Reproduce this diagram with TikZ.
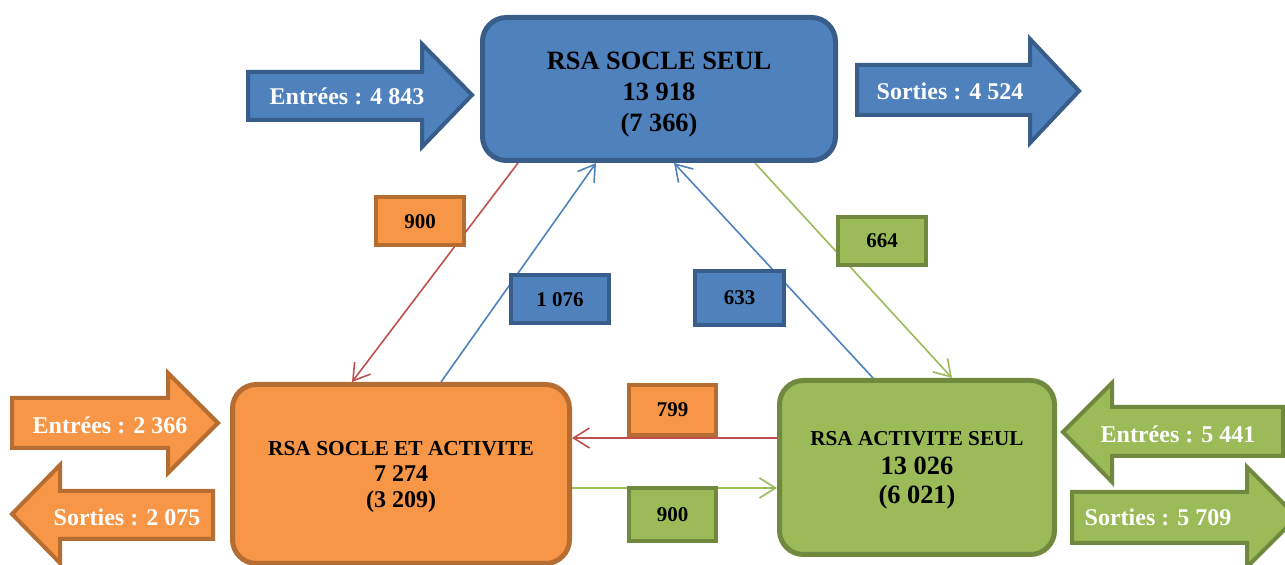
\documentclass[tikz,border=0pt]{standalone}
\usepackage{fontspec}
\setmainfont{Liberation Serif}
\usepackage{xcolor}
\usepackage{tikz}
\usetikzlibrary{arrows.meta,calc}

\definecolor{bluefill}{HTML}{4F81BD}
\definecolor{blueline}{HTML}{385D8A}
\definecolor{orangefill}{HTML}{F79646}
\definecolor{orangeline}{HTML}{B66D31}
\definecolor{greenfill}{HTML}{9BBB59}
\definecolor{greenline}{HTML}{71893F}
\definecolor{redflow}{HTML}{C0504D}

\begin{document}
\begin{tikzpicture}[
    x=0.5pt, y=-0.5pt,
    bigbox/.style={rectangle, rounded corners=12pt, line width=2.5pt, align=center},
    countbox/.style={rectangle, line width=2pt, minimum width=44pt, minimum height=24pt, font=\bfseries\fontsize{10.5}{12}\selectfont},
    blockarrow/.style={line width=2pt},
    arrowtext/.style={text=white, font=\bfseries\fontsize{12}{14}\selectfont},
    flow/.style={line width=0.8pt, -{Straight Barb[length=8pt,width=10pt]}}
]
    \useasboundingbox (0,0) rectangle (1285,565);

    % Nodes
    \node[bigbox, fill=bluefill, draw=blueline, minimum width=176.5pt, minimum height=71.5pt,
          font=\bfseries\fontsize{13.2}{15.5}\selectfont] (socle) at (659,89)
        {\rule{0pt}{14pt}RSA SOCLE SEUL\\13 918\\(7 366)};
    \node[bigbox, fill=orangefill, draw=orangeline, minimum width=168.5pt, minimum height=89.5pt,
          font=\bfseries\fontsize{12}{13}\selectfont] (mixte) at (401,474)
        {\rule{0pt}{10pt}{\fontsize{10.7}{13}\selectfont RSA SOCLE ET ACTIVITE}\\7 274\\(3 209)};
    \node[bigbox, fill=greenfill, draw=greenline, minimum width=137.5pt, minimum height=87pt,
          font=\bfseries\fontsize{13.2}{14.5}\selectfont] (activite) at (917,467.5)
        {\rule{0pt}{10pt}{\fontsize{10.6}{14.5}\selectfont RSA ACTIVITE SEUL}\\13 026\\(6 021)};

    % Entrees / sorties
    \draw[blockarrow, fill=bluefill, draw=blueline] (248,72) -- (422,72) -- (422,44) -- (472,95) -- (422,147) -- (422,120) -- (248,120) -- cycle;
    \node[arrowtext] (insocle) at (347,96) {Entrées : 4 843};
    \draw[blockarrow, fill=bluefill, draw=blueline] (857,65) -- (1030,65) -- (1030,39) -- (1079,91) -- (1030,143) -- (1030,115) -- (857,115) -- cycle;
    \node[arrowtext] (outsocle) at (950,91) {Sorties : 4 524};
    \draw[blockarrow, fill=orangefill, draw=orangeline] (12,398) -- (168,398) -- (168,373) -- (218,423) -- (168,473) -- (168,448) -- (12,448) -- cycle;
    \node[arrowtext] (inmixte) at (110,425) {Entrées : 2 366};
    \draw[blockarrow, fill=orangefill, draw=orangeline] (213,491) -- (60,491) -- (60,465) -- (12,514) -- (60,563) -- (60,539) -- (213,539) -- cycle;
    \node[arrowtext] (outmixte) at (127,517) {Sorties : 2 075};
    \draw[blockarrow, fill=greenfill, draw=greenline] (1283,407) -- (1112,407) -- (1112,383) -- (1063,432) -- (1112,482) -- (1112,456) -- (1283,456) -- cycle;
    \node[arrowtext] (inactivite) at (1178,434) {Entrées : 5 441};
    \draw[blockarrow, fill=greenfill, draw=greenline] (1072,492) -- (1247,492) -- (1247,467) -- (1297,517) -- (1247,567) -- (1247,543) -- (1072,543) -- cycle;
    \node[arrowtext] (outactivite) at (1158,517) {Sorties : 5 709};

    % Arrows
    \draw[flow, redflow] ([xshift=-70.5pt]socle.south) -- ([xshift=-24.5pt]mixte.north);
    \draw[flow, bluefill] ([xshift=20pt]mixte.north) -- ([xshift=-31.5pt]socle.south);
    \draw[flow, bluefill] ([xshift=-22pt]activite.north) -- ([xshift=7.5pt]socle.south);
    \draw[flow, greenfill] ([xshift=48pt]socle.south) -- ([xshift=17.5pt]activite.north);
    \draw[flow, redflow] ([yshift=14.75pt]activite.west) -- ([yshift=18pt]mixte.east);
    \draw[flow, greenfill] ([yshift=-7pt]mixte.east) -- ([yshift=-10.25pt]activite.west);

    % Counts
    \node[countbox, fill=orangefill, draw=orangeline] (n900a) at (420,221.5) {900};
    \node[countbox, fill=bluefill, draw=blueline, minimum width=49pt] (n1076) at (560,299.5) {1 076};
    \node[countbox, fill=bluefill, draw=blueline, minimum width=44.5pt, minimum height=27pt] (n633) at (739.5,298) {633};
    \node[countbox, fill=greenfill, draw=greenline] (n664) at (882,241) {664};
    \node[countbox, fill=orangefill, draw=orangeline, minimum width=43.5pt, minimum height=25pt] (n799) at (672.5,410) {799};
    \node[countbox, fill=greenfill, draw=greenline, minimum width=43.5pt, minimum height=26.5pt] (n900b) at (672.5,514.5) {900};
\end{tikzpicture}
\end{document}
